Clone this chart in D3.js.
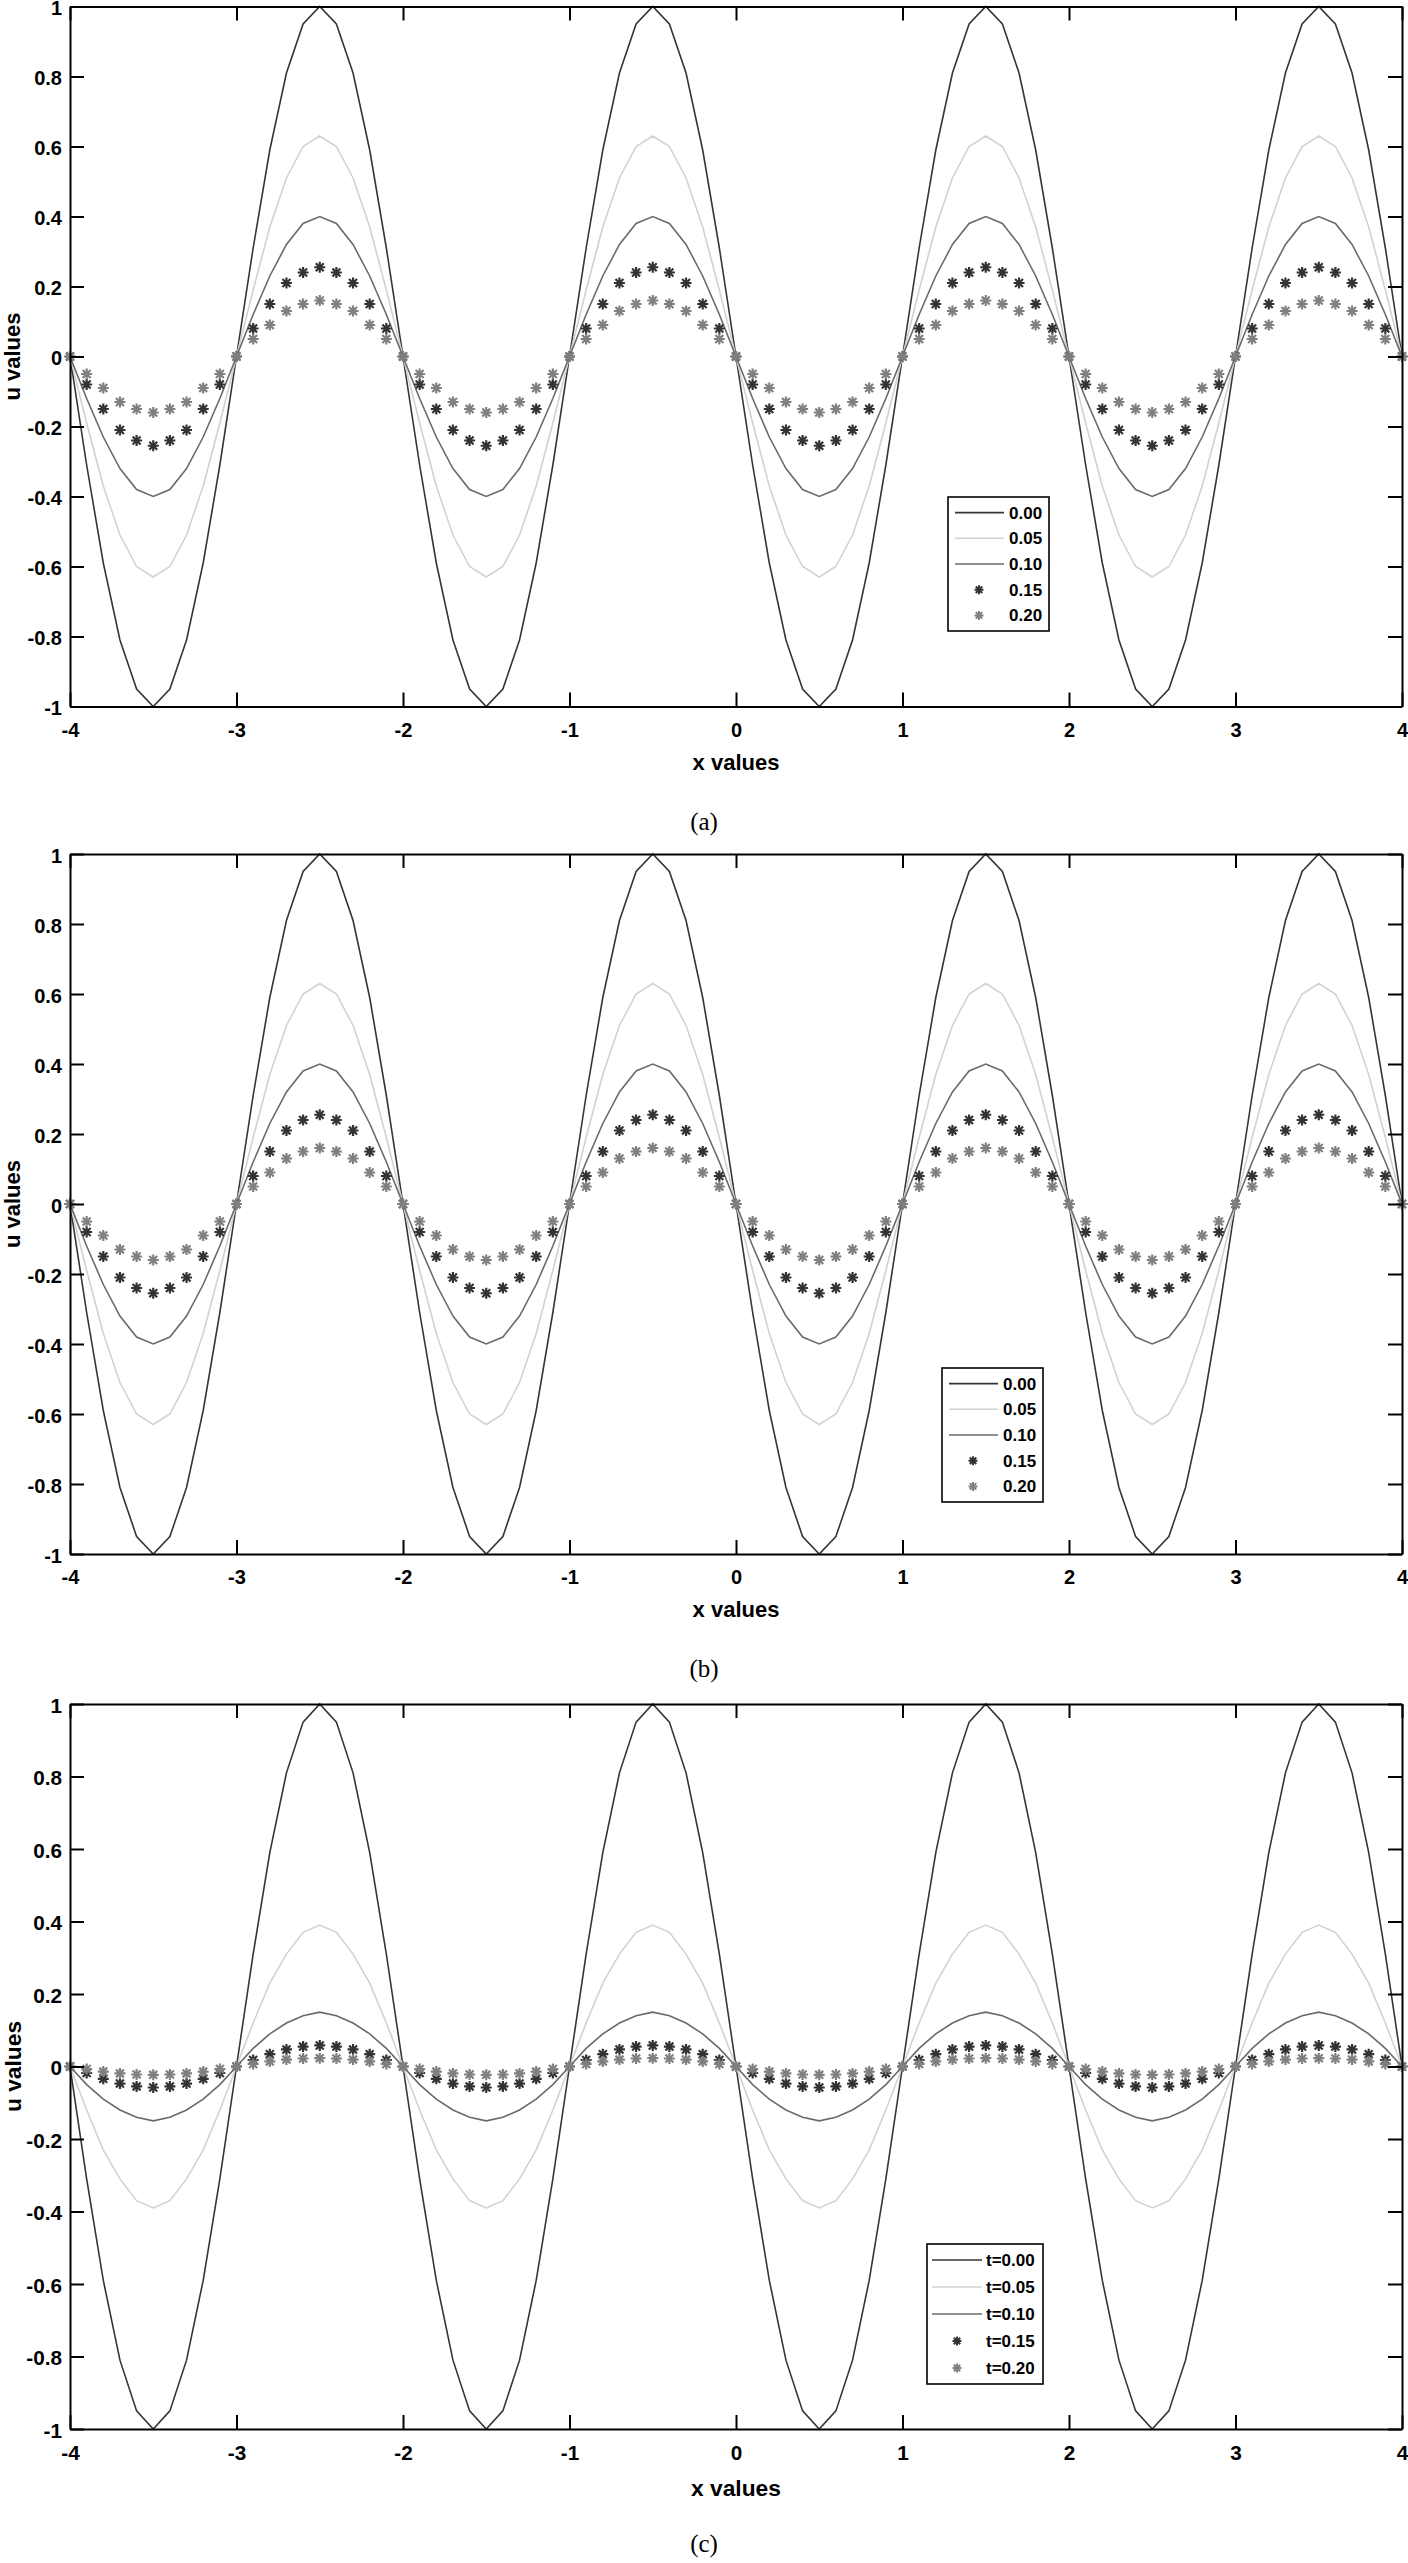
<!DOCTYPE html>
<html>
<head>
<meta charset="utf-8">
<script src="https://cdn.jsdelivr.net/npm/d3@7"></script>
<style>
  body { margin: 0; background: #fff; }
  svg { display: block; }
  .tick text { font-family: "Liberation Sans", Arial, sans-serif; font-weight: bold; fill: #000; }
</style>
</head>
<body>
<svg></svg>
<script>
const width = 1408;
const height = 2563;

// sample points shared by every curve
const xValues = [
  -4,-3.9,-3.8,-3.7,-3.6,-3.5,-3.4,-3.3,-3.2,-3.1,
  -3,-2.9,-2.8,-2.7,-2.6,-2.5,-2.4,-2.3,-2.2,-2.1,
  -2,-1.9,-1.8,-1.7,-1.6,-1.5,-1.4,-1.3,-1.2,-1.1,
  -1,-0.9,-0.8,-0.7,-0.6,-0.5,-0.4,-0.3,-0.2,-0.1,
  0,0.1,0.2,0.3,0.4,0.5,0.6,0.7,0.8,0.9,
  1,1.1,1.2,1.3,1.4,1.5,1.6,1.7,1.8,1.9,
  2,2.1,2.2,2.3,2.4,2.5,2.6,2.7,2.8,2.9,
  3,3.1,3.2,3.3,3.4,3.5,3.6,3.7,3.8,3.9,
  4];

// t = 0.00 (same initial profile in every panel)
const u000 = [
  0,-0.31,-0.59,-0.81,-0.95,-1,-0.95,-0.81,-0.59,-0.31,
  0,0.31,0.59,0.81,0.95,1,0.95,0.81,0.59,0.31,
  0,-0.31,-0.59,-0.81,-0.95,-1,-0.95,-0.81,-0.59,-0.31,
  0,0.31,0.59,0.81,0.95,1,0.95,0.81,0.59,0.31,
  0,-0.31,-0.59,-0.81,-0.95,-1,-0.95,-0.81,-0.59,-0.31,
  0,0.31,0.59,0.81,0.95,1,0.95,0.81,0.59,0.31,
  0,-0.31,-0.59,-0.81,-0.95,-1,-0.95,-0.81,-0.59,-0.31,
  0,0.31,0.59,0.81,0.95,1,0.95,0.81,0.59,0.31,
  0];

// panels (a) and (b)
const ab005 = [
  0,-0.19,-0.37,-0.51,-0.6,-0.63,-0.6,-0.51,-0.37,-0.19,
  0,0.19,0.37,0.51,0.6,0.63,0.6,0.51,0.37,0.19,
  0,-0.19,-0.37,-0.51,-0.6,-0.63,-0.6,-0.51,-0.37,-0.19,
  0,0.19,0.37,0.51,0.6,0.63,0.6,0.51,0.37,0.19,
  0,-0.19,-0.37,-0.51,-0.6,-0.63,-0.6,-0.51,-0.37,-0.19,
  0,0.19,0.37,0.51,0.6,0.63,0.6,0.51,0.37,0.19,
  0,-0.19,-0.37,-0.51,-0.6,-0.63,-0.6,-0.51,-0.37,-0.19,
  0,0.19,0.37,0.51,0.6,0.63,0.6,0.51,0.37,0.19,
  0];
const ab010 = [
  0,-0.12,-0.23,-0.32,-0.38,-0.4,-0.38,-0.32,-0.23,-0.12,
  0,0.12,0.23,0.32,0.38,0.4,0.38,0.32,0.23,0.12,
  0,-0.12,-0.23,-0.32,-0.38,-0.4,-0.38,-0.32,-0.23,-0.12,
  0,0.12,0.23,0.32,0.38,0.4,0.38,0.32,0.23,0.12,
  0,-0.12,-0.23,-0.32,-0.38,-0.4,-0.38,-0.32,-0.23,-0.12,
  0,0.12,0.23,0.32,0.38,0.4,0.38,0.32,0.23,0.12,
  0,-0.12,-0.23,-0.32,-0.38,-0.4,-0.38,-0.32,-0.23,-0.12,
  0,0.12,0.23,0.32,0.38,0.4,0.38,0.32,0.23,0.12,
  0];
const ab015 = [
  0,-0.08,-0.15,-0.21,-0.24,-0.255,-0.24,-0.21,-0.15,-0.08,
  0,0.08,0.15,0.21,0.24,0.255,0.24,0.21,0.15,0.08,
  0,-0.08,-0.15,-0.21,-0.24,-0.255,-0.24,-0.21,-0.15,-0.08,
  0,0.08,0.15,0.21,0.24,0.255,0.24,0.21,0.15,0.08,
  0,-0.08,-0.15,-0.21,-0.24,-0.255,-0.24,-0.21,-0.15,-0.08,
  0,0.08,0.15,0.21,0.24,0.255,0.24,0.21,0.15,0.08,
  0,-0.08,-0.15,-0.21,-0.24,-0.255,-0.24,-0.21,-0.15,-0.08,
  0,0.08,0.15,0.21,0.24,0.255,0.24,0.21,0.15,0.08,
  0];
const ab020 = [
  0,-0.05,-0.09,-0.13,-0.15,-0.16,-0.15,-0.13,-0.09,-0.05,
  0,0.05,0.09,0.13,0.15,0.16,0.15,0.13,0.09,0.05,
  0,-0.05,-0.09,-0.13,-0.15,-0.16,-0.15,-0.13,-0.09,-0.05,
  0,0.05,0.09,0.13,0.15,0.16,0.15,0.13,0.09,0.05,
  0,-0.05,-0.09,-0.13,-0.15,-0.16,-0.15,-0.13,-0.09,-0.05,
  0,0.05,0.09,0.13,0.15,0.16,0.15,0.13,0.09,0.05,
  0,-0.05,-0.09,-0.13,-0.15,-0.16,-0.15,-0.13,-0.09,-0.05,
  0,0.05,0.09,0.13,0.15,0.16,0.15,0.13,0.09,0.05,
  0];

// panel (c)
const c005 = [
  0,-0.12,-0.23,-0.31,-0.37,-0.39,-0.37,-0.31,-0.23,-0.12,
  0,0.12,0.23,0.31,0.37,0.39,0.37,0.31,0.23,0.12,
  0,-0.12,-0.23,-0.31,-0.37,-0.39,-0.37,-0.31,-0.23,-0.12,
  0,0.12,0.23,0.31,0.37,0.39,0.37,0.31,0.23,0.12,
  0,-0.12,-0.23,-0.31,-0.37,-0.39,-0.37,-0.31,-0.23,-0.12,
  0,0.12,0.23,0.31,0.37,0.39,0.37,0.31,0.23,0.12,
  0,-0.12,-0.23,-0.31,-0.37,-0.39,-0.37,-0.31,-0.23,-0.12,
  0,0.12,0.23,0.31,0.37,0.39,0.37,0.31,0.23,0.12,
  0];
const c010 = [
  0,-0.05,-0.09,-0.12,-0.14,-0.15,-0.14,-0.12,-0.09,-0.05,
  0,0.05,0.09,0.12,0.14,0.15,0.14,0.12,0.09,0.05,
  0,-0.05,-0.09,-0.12,-0.14,-0.15,-0.14,-0.12,-0.09,-0.05,
  0,0.05,0.09,0.12,0.14,0.15,0.14,0.12,0.09,0.05,
  0,-0.05,-0.09,-0.12,-0.14,-0.15,-0.14,-0.12,-0.09,-0.05,
  0,0.05,0.09,0.12,0.14,0.15,0.14,0.12,0.09,0.05,
  0,-0.05,-0.09,-0.12,-0.14,-0.15,-0.14,-0.12,-0.09,-0.05,
  0,0.05,0.09,0.12,0.14,0.15,0.14,0.12,0.09,0.05,
  0];
const c015 = [
  0,-0.018,-0.034,-0.047,-0.055,-0.058,-0.055,-0.047,-0.034,-0.018,
  0,0.018,0.034,0.047,0.055,0.058,0.055,0.047,0.034,0.018,
  0,-0.018,-0.034,-0.047,-0.055,-0.058,-0.055,-0.047,-0.034,-0.018,
  0,0.018,0.034,0.047,0.055,0.058,0.055,0.047,0.034,0.018,
  0,-0.018,-0.034,-0.047,-0.055,-0.058,-0.055,-0.047,-0.034,-0.018,
  0,0.018,0.034,0.047,0.055,0.058,0.055,0.047,0.034,0.018,
  0,-0.018,-0.034,-0.047,-0.055,-0.058,-0.055,-0.047,-0.034,-0.018,
  0,0.018,0.034,0.047,0.055,0.058,0.055,0.047,0.034,0.018,
  0];
const c020 = [
  0,-0.007,-0.014,-0.019,-0.022,-0.023,-0.022,-0.019,-0.014,-0.007,
  0,0.007,0.014,0.019,0.022,0.023,0.022,0.019,0.014,0.007,
  0,-0.007,-0.014,-0.019,-0.022,-0.023,-0.022,-0.019,-0.014,-0.007,
  0,0.007,0.014,0.019,0.022,0.023,0.022,0.019,0.014,0.007,
  0,-0.007,-0.014,-0.019,-0.022,-0.023,-0.022,-0.019,-0.014,-0.007,
  0,0.007,0.014,0.019,0.022,0.023,0.022,0.019,0.014,0.007,
  0,-0.007,-0.014,-0.019,-0.022,-0.023,-0.022,-0.019,-0.014,-0.007,
  0,0.007,0.014,0.019,0.022,0.023,0.022,0.019,0.014,0.007,
  0];

const xTicks = [-4,-3,-2,-1,0,1,2,3,4];
const yTicks = [-1,-0.8,-0.6,-0.4,-0.2,0,0.2,0.4,0.6,0.8,1];
const labelsAB = ["0.00","0.05","0.10","0.15","0.20"];
const labelsC = ["t=0.00","t=0.05","t=0.10","t=0.15","t=0.20"];

// how each series is drawn: line or asterisk markers
const seriesStyle = [
  {kind: "line", color: "#353535"},
  {kind: "line", color: "#d2d2d2"},
  {kind: "line", color: "#6a6a6a"},
  {kind: "mark", color: "#333333"},
  {kind: "mark", color: "#808080"}
];

const svg = d3.select("svg").attr("width", width).attr("height", height);

const panels = [
  {top: 6.5, h: 700, k: 1, series: [u000, ab005, ab010, ab015, ab020], labels: labelsAB,
   legend: {x: 948, y: 497, w: 101, h: 134, row: 25.7, line: [7, 56], mark: 31, text: 61},
   xLabelY: 762, caption: "(a)", captionY: 821},
  {top: 854, h: 700, k: 1, series: [u000, ab005, ab010, ab015, ab020], labels: labelsAB,
   legend: {x: 942, y: 1368, w: 101, h: 134, row: 25.7, line: [7, 56], mark: 31, text: 61},
   xLabelY: 1609, caption: "(b)", captionY: 1668},
  {top: 1704, h: 725, k: 1.036, series: [u000, c005, c010, c015, c020], labels: labelsC,
   legend: {x: 927, y: 2244, w: 116, h: 140, row: 27, line: [5, 55], mark: 30, text: 59},
   xLabelY: 2488, caption: "(c)", captionY: 2543}
];

const left = 70, right = 1402;

// 8-spoke asterisk like the plotting program's '*' marker
function asterisk(r) {
  const d = r * 0.72;
  return `M0,${-r}V${r}M${-r},0H${r}M${-d},${-d}L${d},${d}M${-d},${d}L${d},${-d}`;
}

panels.forEach(p => {
  const x = d3.scaleLinear().domain([-4, 4]).range([left, right]);
  const y = d3.scaleLinear().domain([-1, 1]).range([p.top + p.h, p.top]);
  const g = svg.append("g");
  const tickFont = 20 * p.k;
  const fmt = d => String(+d.toFixed(1));

  const line = d3.line().x((d, i) => x(xValues[i])).y(d => y(d));

  p.series.forEach((vals, si) => {
    const st = seriesStyle[si];
    if (st.kind === "line") {
      g.append("path").datum(vals)
        .attr("d", line)
        .attr("fill", "none")
        .attr("stroke", st.color)
        .attr("stroke-width", 1.6);
    } else {
      g.append("g").selectAll("path")
        .data(vals)
        .enter()
        .append("path")
        .attr("transform", (d, i) => `translate(${x(xValues[i])},${y(d)})`)
        .attr("d", asterisk(5.5))
        .attr("stroke", st.color)
        .attr("stroke-width", 2.2)
        .attr("fill", "none");
    }
  });

  // frame and ticks (ticks point inwards on all four sides)
  const axes = [
    {ax: d3.axisBottom(x).tickValues(xTicks).tickFormat(fmt).tickPadding(16), t: `translate(0,${p.top + p.h})`},
    {ax: d3.axisTop(x).tickValues(xTicks).tickFormat(""), t: `translate(0,${p.top})`},
    {ax: d3.axisLeft(y).tickValues(yTicks).tickFormat(fmt).tickPadding(8), t: `translate(${left},0)`},
    {ax: d3.axisRight(y).tickValues(yTicks).tickFormat(""), t: `translate(${right},0)`}
  ];
  axes.forEach((a, ai) => {
    const ag = g.append("g").attr("transform", a.t)
      .call(a.ax.tickSizeInner(-14).tickSizeOuter(0));
    ag.select(".domain").attr("stroke", "#000").attr("stroke-width", 2);
    ag.selectAll(".tick line").attr("stroke", "#000").attr("stroke-width", 2);
    ag.selectAll(".tick text").attr("font-size", tickFont);
    if (ai === 2) ag.selectAll(".tick text").attr("dy", "0.4em");
  });

  // axis titles
  g.append("text")
    .attr("x", (left + right) / 2)
    .attr("y", p.xLabelY)
    .attr("dy", "0.35em")
    .attr("text-anchor", "middle")
    .attr("font-family", "Liberation Sans, Arial, sans-serif")
    .attr("font-weight", "bold")
    .attr("font-size", 22 * p.k)
    .text("x values");
  g.append("text")
    .attr("transform", `translate(${20 * p.k},${p.top + p.h / 2}) rotate(-90)`)
    .attr("text-anchor", "middle")
    .attr("font-family", "Liberation Sans, Arial, sans-serif")
    .attr("font-weight", "bold")
    .attr("font-size", 22 * p.k)
    .text("u values");

  // legend
  const L = p.legend;
  const lg = g.append("g").attr("transform", `translate(${L.x},${L.y})`);
  lg.append("rect").attr("width", L.w).attr("height", L.h)
    .attr("fill", "#fff").attr("stroke", "#000").attr("stroke-width", 1.6);
  p.labels.forEach((lab, i) => {
    const st = seriesStyle[i];
    const ry = (L.h - L.row * 4) / 2 + i * L.row;
    if (st.kind === "line") {
      lg.append("line").attr("x1", L.line[0]).attr("x2", L.line[1])
        .attr("y1", ry).attr("y2", ry)
        .attr("stroke", st.color).attr("stroke-width", 1.6);
    } else {
      lg.append("path").attr("transform", `translate(${L.mark},${ry})`)
        .attr("d", asterisk(4.5))
        .attr("stroke", st.color).attr("stroke-width", 2).attr("fill", "none");
    }
    lg.append("text").attr("x", L.text).attr("y", ry).attr("dy", "0.35em")
      .attr("font-family", "Liberation Sans, Arial, sans-serif")
      .attr("font-weight", "bold")
      .attr("font-size", 17)
      .text(lab);
  });

  // caption under the panel
  svg.append("text")
    .attr("x", 704)
    .attr("y", p.captionY)
    .attr("dy", "0.35em")
    .attr("text-anchor", "middle")
    .attr("font-family", "Liberation Serif, serif")
    .attr("font-size", 25)
    .text(p.caption);
});
</script>
</body>
</html>
